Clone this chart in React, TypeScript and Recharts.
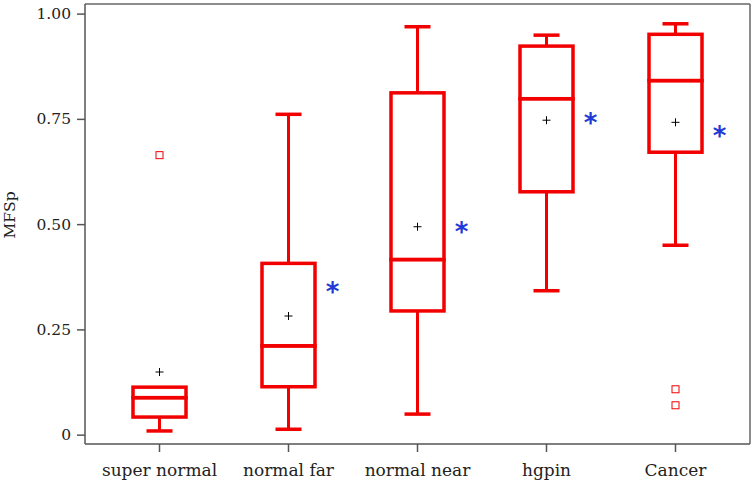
import React from 'react';
import { ComposedChart, Bar, Line, XAxis, YAxis } from 'recharts';

const categories = ['super normal', 'normal far', 'normal near', 'hgpin', 'Cancer'];
const whiskerLow = [0.01, 0.014, 0.05, 0.343, 0.451];
const q1 = [0.043, 0.115, 0.295, 0.578, 0.672];
const median = [0.089, 0.212, 0.417, 0.799, 0.842];
const q3 = [0.114, 0.408, 0.813, 0.924, 0.952];
const whiskerHigh = [0.114, 0.762, 0.97, 0.95, 0.977];
const means = [0.15, 0.283, 0.495, 0.748, 0.743];
const outliersA: (number | null)[] = [0.665, null, null, null, 0.109];
const outliersB: (number | null)[] = [null, null, null, null, 0.071];
const starValues: (number | null)[] = [null, 0.349, 0.492, 0.751, 0.72];
const yTicks = [0, 0.25, 0.5, 0.75, 1];

const RED = '#f20000';
const SERIF = '"DejaVu Serif", serif';

const data = categories.map((name, i) => ({
  name,
  base: whiskerLow[i],
  lowWhisker: q1[i] - whiskerLow[i],
  lowBox: median[i] - q1[i],
  highBox: q3[i] - median[i],
  highWhisker: whiskerHigh[i] - q3[i],
  mean: means[i],
  outA: outliersA[i],
  outB: outliersB[i],
  star: starValues[i],
}));

const CAP = 13;

const LowWhiskerShape = (p: any) => {
  const { x, y, width, height } = p;
  if (!(height > 0.5)) return <g />;
  const cx = x + width / 2;
  return (
    <g>
      <line x1={cx} x2={cx} y1={y} y2={y + height} stroke={RED} strokeWidth={3} />
      <line x1={cx - CAP} x2={cx + CAP} y1={y + height} y2={y + height} stroke={RED} strokeWidth={3.5} />
    </g>
  );
};

const HighWhiskerShape = (p: any) => {
  const { x, y, width, height } = p;
  if (!(height > 0.5)) return <g />;
  const cx = x + width / 2;
  return (
    <g>
      <line x1={cx} x2={cx} y1={y} y2={y + height} stroke={RED} strokeWidth={3} />
      <line x1={cx - CAP} x2={cx + CAP} y1={y} y2={y} stroke={RED} strokeWidth={3.5} />
    </g>
  );
};

const BoxShape = (p: any) => {
  const { x, y, width, height } = p;
  if (!(height >= 0)) return <g />;
  return <rect x={x} y={y} width={width} height={height} fill="none" stroke={RED} strokeWidth={3.5} />;
};

const EmptyShape = () => <g />;

const ok = (v: any) => v !== null && v !== undefined && !Number.isNaN(v);

const PlusDot = (p: any) => {
  const { cx, cy, value } = p;
  if (!ok(cy) || !ok(value)) return <g key={p.index} />;
  return (
    <g key={p.index}>
      <line x1={cx - 4} x2={cx + 4} y1={cy} y2={cy} stroke="#000" strokeWidth={1} />
      <line x1={cx} x2={cx} y1={cy - 4} y2={cy + 4} stroke="#000" strokeWidth={1} />
    </g>
  );
};

const SquareDot = (p: any) => {
  const { cx, cy, value } = p;
  if (!ok(cy) || !ok(value)) return <g key={p.index} />;
  return <rect key={p.index} x={cx - 3.5} y={cy - 3.5} width={7} height={7} fill="none" stroke={RED} strokeWidth={1} />;
};

const StarDot = (p: any) => {
  const { cx, cy, value } = p;
  if (!ok(cy) || !ok(value)) return <g key={p.index} />;
  return (
    <text key={p.index} x={cx + 44} y={cy + 13} textAnchor="middle" fill="#1f3ad6" fontSize={26} fontWeight="bold" fontFamily='"DejaVu Sans", sans-serif'>
      *
    </text>
  );
};

const XTick = (p: any) => {
  const { x, y, payload } = p;
  return (
    <text x={x} y={y} dy={22} textAnchor="middle" fill="#222" fontSize={17} fontFamily={SERIF}>
      {payload.value}
    </text>
  );
};

const YTick = (p: any) => {
  const { x, y, payload } = p;
  const v = payload.value;
  return (
    <text x={x} y={y} dy={5} textAnchor="end" fill="#222" fontSize={15.5} fontFamily={SERIF}>
      {v === 0 ? '0' : v.toFixed(2)}
    </text>
  );
};

const YLabel = () => {
  const x = 15;
  const y = 215;
  return (
    <text x={x} y={y} transform={`rotate(-90, ${x}, ${y})`} textAnchor="middle" fill="#222" fontSize={15.5} fontFamily={SERIF}>
      MFSp
    </text>
  );
};

export default function App() {
  return (
    <div style={{ position: 'absolute', left: 0, top: 0, background: '#fff' }}>
      <ComposedChart width={756} height={486} data={data} margin={{ top: 3, right: 5, left: 0, bottom: 0 }} barSize={53}>
        <XAxis
          dataKey="name"
          xAxisId={0}
          height={42}
          padding={{ left: 10, right: 10 }}
          axisLine={{ stroke: '#555', strokeWidth: 1.5 }}
          tickLine={{ stroke: '#555', strokeWidth: 1.5 }}
          tickSize={8}
          tick={<XTick />}
          interval={0}
        />
        <XAxis dataKey="name" xAxisId="top" orientation="top" height={1} tick={false} tickLine={false} axisLine={{ stroke: '#666', strokeWidth: 1.5 }} />
        <YAxis
          yAxisId={0}
          width={85}
          type="number"
          domain={[-0.021, 1.024]}
          allowDataOverflow
          ticks={yTicks}
          tickSize={8}
          tickMargin={6}
          axisLine={{ stroke: '#555', strokeWidth: 1.5 }}
          tickLine={{ stroke: '#555', strokeWidth: 1.5 }}
          tick={<YTick />}
          label={{ content: <YLabel /> }}
        />
        <YAxis yAxisId="right" orientation="right" width={1} tick={false} tickLine={false} axisLine={{ stroke: '#666', strokeWidth: 1.5 }} />
        <Bar dataKey="base" stackId="box" shape={<EmptyShape />} isAnimationActive={false} />
        <Bar dataKey="lowWhisker" stackId="box" shape={<LowWhiskerShape />} isAnimationActive={false} />
        <Bar dataKey="lowBox" stackId="box" shape={<BoxShape />} isAnimationActive={false} />
        <Bar dataKey="highBox" stackId="box" shape={<BoxShape />} isAnimationActive={false} />
        <Bar dataKey="highWhisker" stackId="box" shape={<HighWhiskerShape />} isAnimationActive={false} />
        <Line dataKey="mean" stroke="none" strokeWidth={0} dot={<PlusDot />} activeDot={false} isAnimationActive={false} />
        <Line dataKey="outA" stroke="none" strokeWidth={0} dot={<SquareDot />} activeDot={false} isAnimationActive={false} />
        <Line dataKey="outB" stroke="none" strokeWidth={0} dot={<SquareDot />} activeDot={false} isAnimationActive={false} />
        <Line dataKey="star" stroke="none" strokeWidth={0} dot={<StarDot />} activeDot={false} isAnimationActive={false} />
      </ComposedChart>
    </div>
  );
}
